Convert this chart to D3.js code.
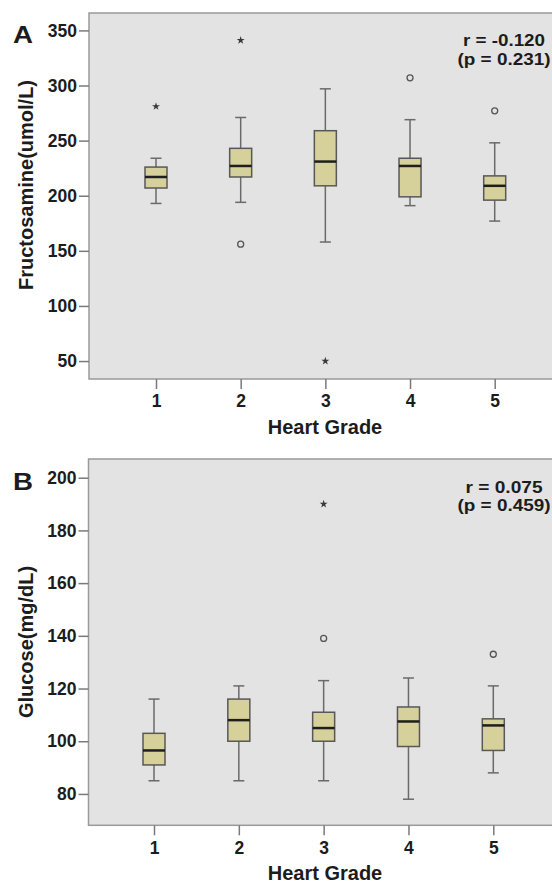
<!DOCTYPE html>
<html>
<head>
<meta charset="utf-8">
<script src="https://cdn.jsdelivr.net/npm/d3@7"></script>
<style>
  html, body { margin: 0; padding: 0; background: #fff; }
  svg { display: block; }
  text { font-family: Arial, "Liberation Sans", Helvetica, sans-serif; font-weight: bold; fill: #1c1c1c; }
</style>
</head>
<body>
<svg id="chart" width="552" height="883"></svg>
<script>
// Heart grade categories
const grades = ["1", "2", "3", "4", "5"];

// Panel A: fructosamine (umol/L) box summaries per grade
const fruLow  = [193, 194, 158, 191, 177];
const fruQ1   = [207, 217, 209, 199, 196];
const fruMed  = [217, 227, 231, 227, 209];
const fruQ3   = [226, 243, 259, 234, 218];
const fruHigh = [234, 271, 297, 269, 248];
const fruOutGrade = ["2", "4", "5"];
const fruOutValue = [156, 307, 277];
const fruExtGrade = ["1", "2", "3"];
const fruExtValue = [281, 341, 50];
const fruTicks = [50, 100, 150, 200, 250, 300, 350];

// Panel B: glucose (mg/dL) box summaries per grade
const gluLow  = [85, 85, 85, 78, 88];
const gluQ1   = [91, 100, 100, 98, 96.5];
const gluMed  = [96.5, 108, 105, 107.5, 106];
const gluQ3   = [103, 116, 111, 113, 108.5];
const gluHigh = [116, 121, 123, 124, 121];
const gluOutGrade = ["3", "5"];
const gluOutValue = [139, 133];
const gluExtGrade = ["3"];
const gluExtValue = [190];
const gluTicks = [80, 100, 120, 140, 160, 180, 200];

const svg = d3.select("#chart");

function panel(cfg) {
  const g = svg.append("g");
  const { left, top, bottom, right } = cfg;

  const x = d3.scalePoint().domain(grades).range([cfg.x1, cfg.x5]);
  const y = d3.scaleLinear().domain(cfg.yDomain).range([bottom, top]);

  // plot background
  g.append("rect")
    .attr("x", left).attr("y", top)
    .attr("width", right - left).attr("height", bottom - top)
    .attr("fill", "#e3e3e3").attr("stroke", "#9a9a9a").attr("stroke-width", 1.5);

  // y axis
  const yAxis = g.append("g")
    .attr("transform", `translate(${left},0)`)
    .call(d3.axisLeft(y).tickValues(cfg.ticks).tickSize(10).tickPadding(2).tickFormat(d3.format("d")));
  yAxis.select(".domain").remove();
  yAxis.selectAll(".tick line").attr("stroke", "#7a7a7a").attr("stroke-width", 1.5);
  yAxis.selectAll(".tick text").attr("font-size", 17.5).attr("fill", "#1c1c1c")
    .attr("font-family", "Arial, 'Liberation Sans', sans-serif").attr("font-weight", "bold");

  // x axis
  const xAxis = g.append("g")
    .attr("transform", `translate(0,${bottom})`)
    .call(d3.axisBottom(x).tickSize(10).tickPadding(6));
  xAxis.select(".domain").remove();
  xAxis.selectAll(".tick line").attr("stroke", "#7a7a7a").attr("stroke-width", 1.5);
  xAxis.selectAll(".tick text").attr("font-size", 17.5).attr("fill", "#1c1c1c")
    .attr("font-family", "Arial, 'Liberation Sans', sans-serif").attr("font-weight", "bold");

  const bw = 22, cap = 11;
  const rows = grades.map((k, i) => ({
    k, lo: cfg.low[i], q1: cfg.q1[i], med: cfg.med[i], q3: cfg.q3[i], hi: cfg.high[i]
  }));

  const box = g.append("g").selectAll("g").data(rows).join("g");
  // whisker stems
  box.append("line")
    .attr("x1", d => x(d.k)).attr("x2", d => x(d.k))
    .attr("y1", d => y(d.q3)).attr("y2", d => y(d.hi))
    .attr("stroke", "#6a6a6a").attr("stroke-width", 1.5);
  box.append("line")
    .attr("x1", d => x(d.k)).attr("x2", d => x(d.k))
    .attr("y1", d => y(d.q1)).attr("y2", d => y(d.lo))
    .attr("stroke", "#6a6a6a").attr("stroke-width", 1.5);
  // whisker caps
  box.append("line")
    .attr("x1", d => x(d.k) - cap / 2).attr("x2", d => x(d.k) + cap / 2)
    .attr("y1", d => y(d.hi)).attr("y2", d => y(d.hi))
    .attr("stroke", "#6a6a6a").attr("stroke-width", 1.5);
  box.append("line")
    .attr("x1", d => x(d.k) - cap / 2).attr("x2", d => x(d.k) + cap / 2)
    .attr("y1", d => y(d.lo)).attr("y2", d => y(d.lo))
    .attr("stroke", "#6a6a6a").attr("stroke-width", 1.5);
  // boxes
  box.append("rect")
    .attr("x", d => x(d.k) - bw / 2).attr("width", bw)
    .attr("y", d => y(d.q3)).attr("height", d => y(d.q1) - y(d.q3))
    .attr("fill", "#d6d09b").attr("stroke", "#585858").attr("stroke-width", 1.5);
  // medians
  box.append("line")
    .attr("x1", d => x(d.k) - bw / 2).attr("x2", d => x(d.k) + bw / 2)
    .attr("y1", d => y(d.med)).attr("y2", d => y(d.med))
    .attr("stroke", "#1e1e1e").attr("stroke-width", 2.5);

  // outliers (circles) and extremes (stars)
  g.append("g").selectAll("circle")
    .data(cfg.outGrade.map((k, i) => ({ k, v: cfg.outValue[i] })))
    .join("circle")
    .attr("cx", d => x(d.k)).attr("cy", d => y(d.v)).attr("r", 3)
    .attr("fill", "none").attr("stroke", "#555").attr("stroke-width", 1.3);
  const star = d3.symbol().type(d3.symbolStar).size(20);
  g.append("g").selectAll("path")
    .data(cfg.extGrade.map((k, i) => ({ k, v: cfg.extValue[i] })))
    .join("path")
    .attr("d", star)
    .attr("transform", d => `translate(${x(d.k)},${y(d.v)})`)
    .attr("fill", "#3a3a3a");

  // axis titles
  g.append("text")
    .attr("transform", `translate(33,${cfg.yTitleY}) rotate(-90)`)
    .attr("text-anchor", "middle").attr("font-size", 20)
    .text(cfg.yTitle);
  g.append("text")
    .attr("x", 325).attr("y", bottom + 55)
    .attr("text-anchor", "middle").attr("font-size", 20)
    .text("Heart Grade");

  // panel letter
  g.append("text")
    .attr("x", 13).attr("y", cfg.letterY)
    .attr("font-size", 24).attr("textLength", 20).attr("lengthAdjust", "spacingAndGlyphs")
    .text(cfg.letter);

  // correlation note, two lines
  g.append("text").attr("text-anchor", "middle").attr("font-size", 16)
    .attr("textLength", cfg.rLen).attr("lengthAdjust", "spacingAndGlyphs")
    .attr("x", 504).attr("y", cfg.noteY).text(cfg.r);
  g.append("text").attr("text-anchor", "middle").attr("font-size", 16)
    .attr("textLength", 93).attr("lengthAdjust", "spacingAndGlyphs")
    .attr("x", 504).attr("y", cfg.noteY + 18.5).text(cfg.p);
}

panel({
  left: 89, right: 562, top: 13, bottom: 379,
  x1: 156, x5: 494.7, yDomain: [33.7, 365.8], ticks: fruTicks,
  low: fruLow, q1: fruQ1, med: fruMed, q3: fruQ3, high: fruHigh,
  outGrade: fruOutGrade, outValue: fruOutValue,
  extGrade: fruExtGrade, extValue: fruExtValue,
  yTitle: "Fructosamine(umol/L)", yTitleY: 185,
  letter: "A", letterY: 43,
  r: "r = -0.120", rLen: 82, p: "(p = 0.231)", noteY: 46
});

panel({
  left: 88.5, right: 562, top: 459, bottom: 825.3,
  x1: 154, x5: 493.3, yDomain: [68.1, 207.1], ticks: gluTicks,
  low: gluLow, q1: gluQ1, med: gluMed, q3: gluQ3, high: gluHigh,
  outGrade: gluOutGrade, outValue: gluOutValue,
  extGrade: gluExtGrade, extValue: gluExtValue,
  yTitle: "Glucose(mg/dL)", yTitleY: 642,
  letter: "B", letterY: 490,
  r: "r = 0.075", rLen: 77, p: "(p = 0.459)", noteY: 492.5
});
</script>
</body>
</html>
